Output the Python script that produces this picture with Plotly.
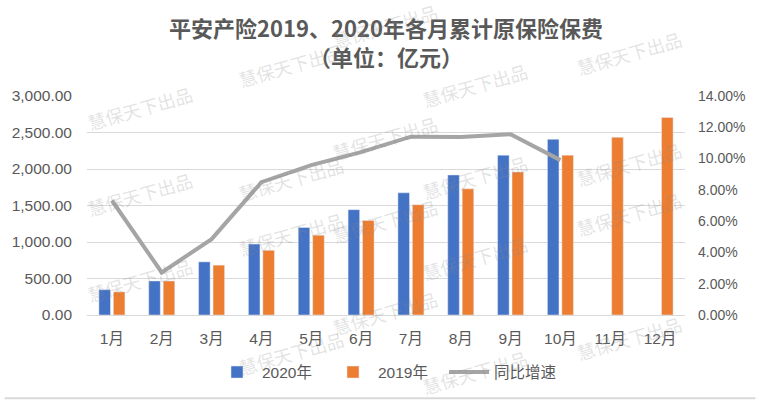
import plotly.graph_objects as go

# ---- data ----
months = ['1月', '2月', '3月', '4月', '5月', '6月', '7月', '8月', '9月', '10月', '11月', '12月']
premium_2020 = [347, 466, 728, 972, 1199, 1443, 1674, 1918, 2190, 2407, None, None]
premium_2019 = [316, 466, 683, 886, 1094, 1294, 1511, 1728, 1959, 2190, 2434, 2706]
growth_pct = [7.32, 2.72, 4.85, 8.49, 9.58, 10.41, 11.40, 11.38, 11.55, 9.90, None, None]

left_ticks = [0, 500, 1000, 1500, 2000, 2500, 3000]
right_ticks = [0, 2, 4, 6, 8, 10, 12, 14]
right_tick_labels = ['0.00%', '2.00%', '4.00%', '6.00%', '8.00%', '10.00%', '12.00%', '14.00%']

title_line1 = '平安产险2019、2020年各月累计原保险保费'
title_line2 = '（单位：亿元）'
watermark = '慧保天下出品'

# watermark centres in window pixels
wm_px = [(78, 78), (78, 195), (78, 312),
         (230, 35), (230, 150), (230, 265), (230, 385),
         (383, -5), (383, 108), (383, 222), (383, 345),
         (533, 55), (533, 178), (533, 290), (533, 405),
         (688, 22), (688, 134), (688, 245), (688, 370)]

W, H = 757, 402
ML, MR, MT, MB = 83, 71, 96, 85
PW, PH = W - ML - MR, H - MT - MB

FONT = 'Liberation Sans, Noto Sans CJK SC, sans-serif'
GREY_TXT = '#595959'

fig = go.Figure()
fig.add_trace(go.Bar(name='2020年', x=months, y=premium_2020, marker_color='#4472C4'))
fig.add_trace(go.Bar(name='2019年', x=months, y=premium_2019, marker_color='#ED7D31'))
fig.add_trace(go.Scatter(name='同比增速', x=months, y=growth_pct, yaxis='y2', mode='lines',
                         line=dict(color='#A5A5A5', width=4), connectgaps=False))

annotations = []
for (px, py) in wm_px:
    annotations.append(dict(text=watermark, xref='paper', yref='paper',
                            x=(px - ML) / PW, y=(H - MB - py) / PH,
                            showarrow=False, textangle=-16,
                            font=dict(size=18, color='rgba(140,140,140,0.25)',
                                      family='Noto Sans CJK SC')))

fig.update_layout(
    width=W, height=H,
    margin=dict(l=ML, r=MR, t=MT, b=MB),
    paper_bgcolor='white', plot_bgcolor='white',
    font=dict(family=FONT, color=GREY_TXT),
    title=dict(text='<b>' + title_line1 + '<br>' + title_line2 + '</b>',
               x=0.5, xanchor='center', xref='paper', y=(H - 37) / H, yanchor='middle',
               font=dict(size=22, color=GREY_TXT, family='Noto Sans CJK SC')),
    barmode='group', bargap=0.42, bargroupgap=0.2,
    xaxis=dict(showgrid=False, showline=True, linecolor='#D9D9D9', linewidth=1,
               ticks='', tickfont=dict(size=15.5, color=GREY_TXT), ticklabelstandoff=9),
    yaxis=dict(range=[0, 3000], tickvals=left_ticks, tickformat=',.2f',
               showgrid=True, gridcolor='#D9D9D9', gridwidth=1, zeroline=False,
               tickfont=dict(size=15.5, color=GREY_TXT), ticklabelstandoff=14),
    yaxis2=dict(range=[0, 14], tickvals=right_ticks, ticktext=right_tick_labels,
                overlaying='y', side='right', showgrid=False, zeroline=False,
                tickfont=dict(size=14, color=GREY_TXT), ticklabelstandoff=12),
    legend=dict(orientation='h', x=0.5, xanchor='center', xref='paper',
                y=-(375 - (H - MB)) / PH, yanchor='middle',
                itemwidth=40, entrywidth=61, entrywidthmode='pixels',
                font=dict(size=15.5, color=GREY_TXT), traceorder='normal'),
    annotations=annotations,
    shapes=[dict(type='line', xref='paper', yref='paper',
                 x0=-ML / PW, x1=(W - ML) / PW, y0=-(401 - (H - MB)) / PH, y1=-(401 - (H - MB)) / PH,
                 line=dict(color='#D9D9D9', width=2))],
)

fig.write_html('out.html', config={'displayModeBar': False},
               post_script="document.body.style.margin='0px';document.body.style.overflow='hidden';")
